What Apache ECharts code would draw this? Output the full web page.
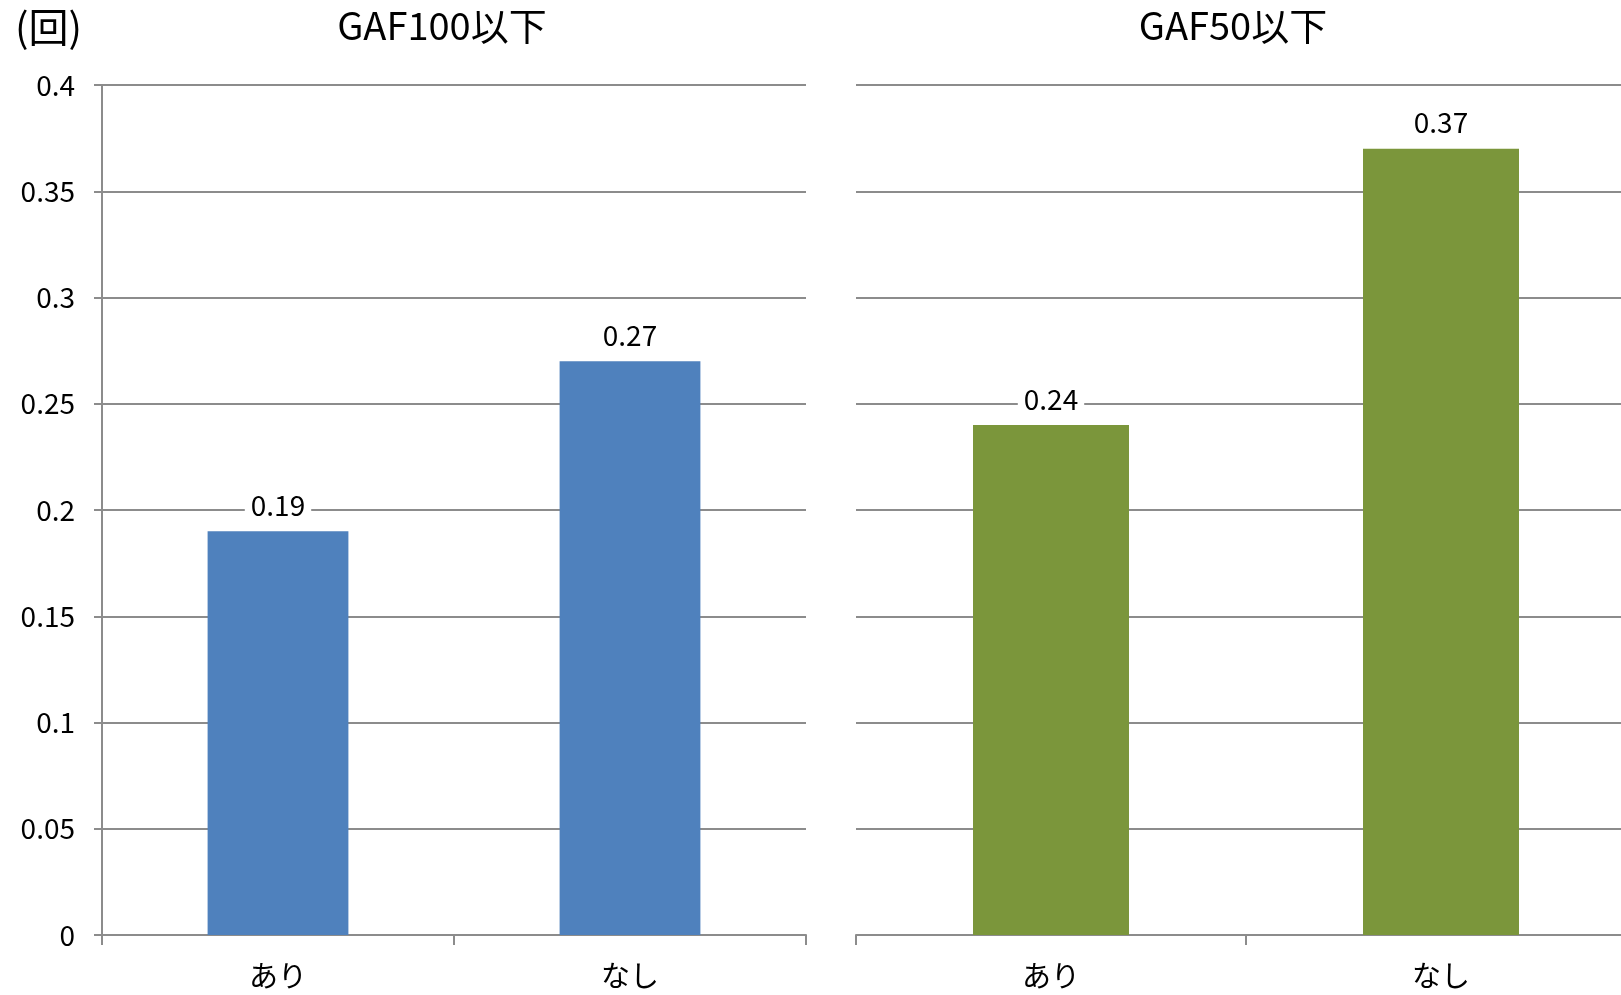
<!DOCTYPE html>
<html>
<head>
<meta charset="utf-8">
<script src="https://cdn.jsdelivr.net/npm/echarts@6/dist/echarts.min.js"></script>
<style>
  html, body { margin: 0; padding: 0; background: #fff; }
  #chart { width: 1621px; height: 995px; }
</style>
</head>
<body>
<div id="chart"></div>
<script>
// Categories and values for the two panels
const categories = ['あり', 'なし'];
const gaf100Values = [0.19, 0.27];
const gaf50Values = [0.24, 0.37];
const panelTitles = ['GAF100以下', 'GAF50以下'];
const unitLabel = '(回)';
const yMin = 0;
const yMax = 0.4;
const yStep = 0.05;

const FONT = '"Noto Sans CJK JP", "Noto Sans", sans-serif';
const GRID_GRAY = '#8c8c8c';

const chart = echarts.init(document.getElementById('chart'), null, { renderer: 'canvas' });

function xAxisFor(gridIndex) {
  return {
    type: 'category',
    gridIndex: gridIndex,
    data: categories,
    boundaryGap: true,
    axisLine: { show: true, lineStyle: { color: GRID_GRAY, width: 2 } },
    axisTick: { show: true, alignWithLabel: false, length: 10, lineStyle: { color: GRID_GRAY, width: 2 } },
    axisLabel: { color: '#000', fontSize: 29, fontFamily: FONT, margin: 26 }
  };
}

function yAxisFor(gridIndex, showLabels) {
  return {
    type: 'value',
    gridIndex: gridIndex,
    min: yMin,
    max: yMax,
    interval: yStep,
    axisLine: { show: showLabels, lineStyle: { color: GRID_GRAY, width: 2 } },
    axisTick: { show: showLabels, length: 8, lineStyle: { color: GRID_GRAY, width: 2 } },
    axisLabel: { show: showLabels, color: '#000', fontSize: 28, fontFamily: FONT, margin: 27 },
    splitLine: { show: true, lineStyle: { color: GRID_GRAY, width: 2 } }
  };
}

function barSeries(index, values, color) {
  return {
    type: 'bar',
    xAxisIndex: index,
    yAxisIndex: index,
    data: values,
    barWidth: '40%',
    itemStyle: { color: color },
    label: {
      show: true,
      position: 'top',
      distance: 10,
      color: '#000',
      fontSize: 28,
      fontFamily: FONT,
      backgroundColor: '#fff',
      padding: [2, 6],
      formatter: p => p.value.toFixed(2)
    }
  };
}

const titleStyle = { color: '#000', fontSize: 38, fontWeight: 'normal', fontFamily: FONT };

const option = {
  backgroundColor: '#fff',
  animation: false,
  title: [
    { text: unitLabel, left: 10, top: 2, textStyle: Object.assign({}, titleStyle, { fontSize: 40 }) },
    { text: panelTitles[0], left: 437, top: 2, textAlign: 'center', textStyle: titleStyle },
    { text: panelTitles[1], left: 1228, top: 2, textAlign: 'center', textStyle: titleStyle }
  ],
  grid: [
    { left: 102, width: 704, top: 85, bottom: 60, outerBoundsMode: 'none' },
    // the right panel runs past the canvas edge
    { left: 856, width: 780, top: 85, bottom: 60, outerBoundsMode: 'none' }
  ],
  xAxis: [xAxisFor(0), xAxisFor(1)],
  yAxis: [yAxisFor(0, true), yAxisFor(1, false)],
  series: [
    barSeries(0, gaf100Values, '#4f81bd'),
    barSeries(1, gaf50Values, '#7b963b')
  ]
};

chart.setOption(option);
</script>
</body>
</html>
